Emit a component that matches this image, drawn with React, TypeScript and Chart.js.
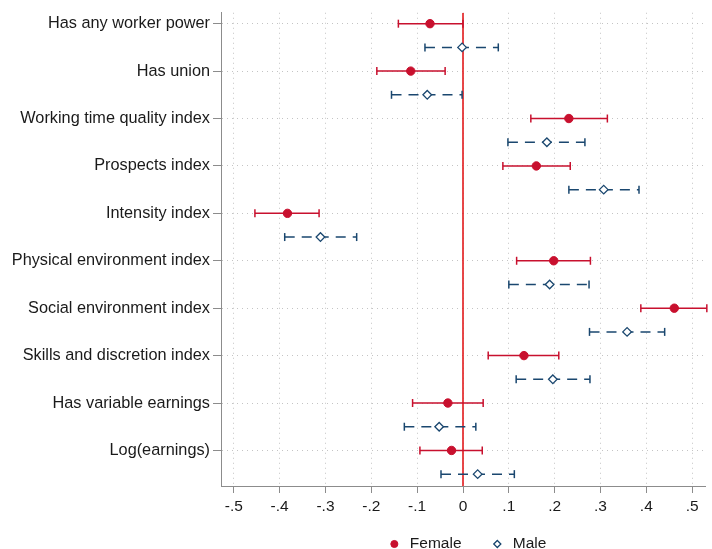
import React, { useEffect, useRef } from "react";
import { Chart, registerables } from "chart.js";

Chart.register(...registerables);

const categories = [
  "Has any worker power",
  "Has union",
  "Working time quality index",
  "Prospects index",
  "Intensity index",
  "Physical environment index",
  "Social environment index",
  "Skills and discretion index",
  "Has variable earnings",
  "Log(earnings)",
];

const femaleEst = [-0.072, -0.114, 0.231, 0.16, -0.383, 0.198, 0.461, 0.133, -0.033, -0.025];
const femaleLo = [-0.141, -0.188, 0.148, 0.087, -0.454, 0.117, 0.388, 0.055, -0.11, -0.094];
const femaleHi = [0.0, -0.039, 0.315, 0.234, -0.314, 0.278, 0.532, 0.209, 0.044, 0.042];

const maleEst = [-0.002, -0.078, 0.183, 0.307, -0.311, 0.189, 0.358, 0.196, -0.052, 0.032];
const maleLo = [-0.083, -0.156, 0.098, 0.231, -0.389, 0.1, 0.276, 0.116, -0.128, -0.048];
const maleHi = [0.077, -0.002, 0.266, 0.384, -0.232, 0.275, 0.44, 0.277, 0.028, 0.112];

const xTicks = [-0.5, -0.4, -0.3, -0.2, -0.1, 0, 0.1, 0.2, 0.3, 0.4, 0.5];
const xTickLabels = ["-.5", "-.4", "-.3", "-.2", "-.1", "0", ".1", ".2", ".3", ".4", ".5"];
const seriesNames = ["Female", "Male"];
const xRange = [-0.528, 0.528];
const yRange = [-0.23, 9.75];
const maleOffset = 0.5;

const FEMALE = "#C8102E";
const MALE = "#1A476F";
const ZERO = "#E31A1C";

function points(est: number[], offset: number) {
  return est.map((v, i) => ({ x: v, y: i + offset }));
}

function ciPoints(lo: number[], hi: number[], offset: number) {
  const out: { x: number; y: number }[] = [];
  lo.forEach((l, i) => {
    out.push({ x: l, y: i + offset });
    out.push({ x: hi[i], y: i + offset });
    out.push({ x: NaN, y: NaN });
  });
  return out;
}

const legendShift = {
  id: "legendShift",
  afterLayout(chart: any) {
    const lg = chart.legend;
    if (!lg) return;
    lg.top -= 18.25;
    lg.bottom -= 18.25;
    lg.left += 3.5;
    lg.right += 3.5;
  },
};

export default function App() {
  const ref = useRef<HTMLCanvasElement>(null);

  useEffect(() => {
    document.body.style.margin = "0";
    document.body.style.overflow = "hidden";
    const family = '"Liberation Sans", Arial, sans-serif';
    const chart = new Chart(ref.current!, {
      type: "scatter",
      plugins: [legendShift],
      data: {
        datasets: [
          {
            label: seriesNames[0],
            data: points(femaleEst, 0),
            pointStyle: "circle",
            pointRadius: 4.2,
            backgroundColor: FEMALE,
            borderColor: FEMALE,
            borderWidth: 1,
            order: 0,
            clip: false,
          },
          {
            label: seriesNames[1],
            data: points(maleEst, maleOffset),
            pointStyle: "rectRot",
            pointRadius: 4.3,
            backgroundColor: "#ffffff",
            borderColor: MALE,
            borderWidth: 1.3,
            order: 0,
            clip: false,
          },
          {
            label: "Female CI",
            data: ciPoints(femaleLo, femaleHi, 0),
            showLine: true,
            spanGaps: false,
            borderColor: FEMALE,
            borderWidth: 1.5,
            pointStyle: "line",
            rotation: 90,
            pointRadius: 4,
            pointBorderColor: FEMALE,
            pointBorderWidth: 1.5,
            order: 1,
            clip: false,
          } as any,
          {
            label: "Male CI",
            data: ciPoints(maleLo, maleHi, maleOffset),
            showLine: true,
            spanGaps: false,
            borderColor: MALE,
            borderWidth: 1.5,
            borderDash: [10, 7],
            pointStyle: "line",
            rotation: 90,
            pointRadius: 4,
            pointBorderColor: MALE,
            pointBorderWidth: 1.5,
            order: 1,
            clip: false,
          } as any,
          {
            label: "zero",
            data: [
              { x: 0, y: yRange[0] },
              { x: 0, y: yRange[1] },
            ],
            showLine: true,
            borderColor: ZERO,
            borderWidth: 1.6,
            pointRadius: 0,
            order: 2,
          } as any,
        ],
      },
      options: {
        responsive: false,
        animation: false,
        events: [],
        layout: { padding: { top: 12, right: 7, left: 0, bottom: 0 } },
        plugins: {
          tooltip: { enabled: false },
          legend: {
            display: true,
            position: "bottom",
            fullSize: false,
            labels: {
              usePointStyle: true,
              boxHeight: 5,
              boxWidth: 16,
              padding: 28,
              color: "#1a1a1a",
              font: { family, size: 15.5 },
              filter: (item: any) => seriesNames.includes(item.text),
            },
          },
        },
        scales: {
          x: {
            type: "linear",
            min: xRange[0],
            max: xRange[1],
            afterBuildTicks: (s: any) => {
              s.ticks = xTicks.map((v) => ({ value: v }));
            },
            afterFit: (s: any) => {
              s.height = 40.5;
            },
            ticks: {
              autoSkip: false,
              maxRotation: 0,
              padding: 4,
              color: "#1a1a1a",
              font: { family, size: 15.5 },
              callback: (v: any) => {
                const i = xTicks.findIndex((t) => Math.abs(t - v) < 1e-9);
                return i >= 0 ? xTickLabels[i] : "";
              },
            },
            grid: {
              color: "#c4c4c4",
              lineWidth: 1,
              tickLength: 7,
              tickColor: "#8c8c8c",
              tickWidth: 1,
              tickBorderDash: [],
            },
            border: { color: "#8c8c8c", width: 1, dash: [1, 4] },
          },
          y: {
            type: "linear",
            reverse: true,
            min: yRange[0],
            max: yRange[1],
            afterBuildTicks: (s: any) => {
              s.ticks = categories.map((_, i) => ({ value: i }));
            },
            afterFit: (s: any) => {
              s.width = 221;
            },
            ticks: {
              autoSkip: false,
              padding: 3,
              color: "#1a1a1a",
              font: { family, size: 16.3 },
              callback: (v: any) => categories[Math.round(v)] ?? "",
            },
            grid: {
              color: "#c4c4c4",
              lineWidth: 1,
              tickLength: 8,
              tickColor: "#8c8c8c",
              tickWidth: 1,
              tickBorderDash: [],
            },
            border: { color: "#8c8c8c", width: 1, dash: [1, 4] },
          },
        },
      } as any,
    });
    return () => chart.destroy();
  }, []);

  return (
    <div style={{ position: "fixed", left: 0, top: 0, width: 712, height: 580 }}>
      <canvas ref={ref} width={712} height={580} style={{ display: "block" }} />
    </div>
  );
}
